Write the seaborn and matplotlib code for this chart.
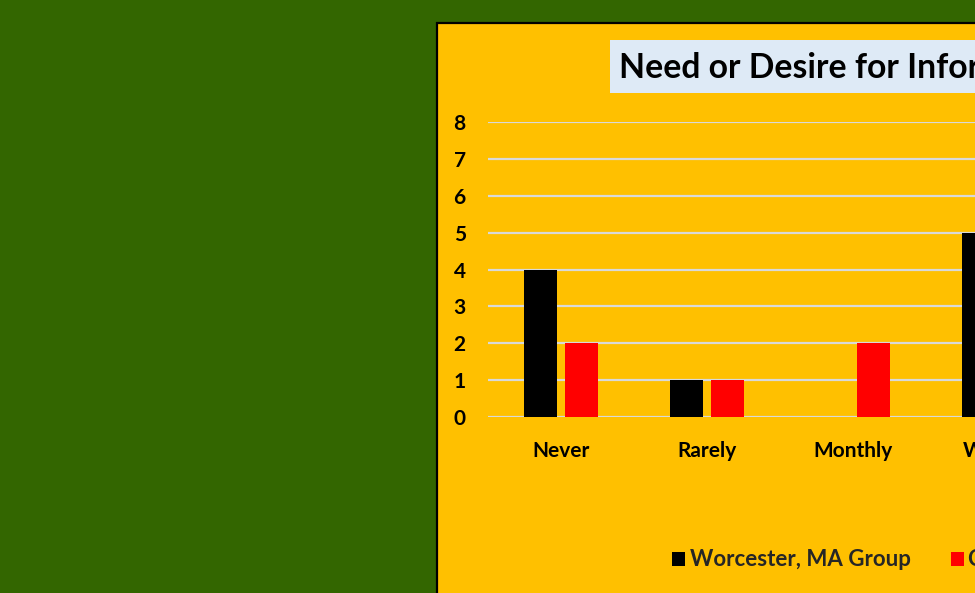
import matplotlib
matplotlib.use("Agg")
import matplotlib.pyplot as plt
from matplotlib.patches import Rectangle
import seaborn as sns
import pandas as pd

# ---- data ----
categories = ["Never", "Rarely", "Monthly", "Weekly"]
series_names = ["Worcester, MA Group", "Comparison Group"]
worcester = [4, 1, 0, 5]
comparison = [2, 1, 2, 3]
yticks = [0, 1, 2, 3, 4, 5, 6, 7, 8]
title = "Need or Desire for Information"

df = pd.DataFrame({
    "Response": categories * 2,
    "Count": worcester + comparison,
    "Group": [series_names[0]] * len(categories) + [series_names[1]] * len(categories),
})

sns.set_theme(style="white")
plt.rcParams["font.family"] = ["Lato", "DejaVu Sans"]

W, H = 975, 593
fig = plt.figure(figsize=(W / 100, H / 100), dpi=100)
fig.patch.set_facecolor("#336600")

# chart panel (yellow with black border), cropped by figure edge
panel = Rectangle((437 / W, -0.2), 0.7, (1 - 23 / H) + 0.2, transform=fig.transFigure,
                  facecolor="#FFC000", edgecolor="#000000", linewidth=1.6, zorder=-2)
fig.patches.append(panel)

# title box
tbox = Rectangle((610 / W, 1 - 93 / H), 0.6, 53 / H, transform=fig.transFigure,
                 facecolor="#DEEAF6", edgecolor="none", zorder=-1)
fig.patches.append(tbox)
fig.text(619 / W, 1 - 68 / H, title, fontsize=24.3, fontweight="bold", color="#000000",
         ha="left", va="center", zorder=2)

ax_left = 488 / W
ax_bottom = 1 - 417 / H
ax_w = 146 * len(categories) / W
ax_h = (417 - 122) / H
ax = fig.add_axes([ax_left, ax_bottom, ax_w, ax_h])
ax.set_facecolor("none")

sns.barplot(data=df, x="Response", y="Count", hue="Group", order=categories,
            hue_order=series_names, palette=["#000000", "#FF0000"], saturation=1,
            width=0.575, gap=0.214, linewidth=0, ax=ax)

ax.set_ylim(0, 8)
ax.set_xlim(-0.5, len(categories) - 0.5)
ax.set_yticks(yticks)
ax.set_yticklabels([str(t) for t in yticks])
ax.yaxis.grid(True, color="#D9D9D9", linewidth=1.6)
ax.set_axisbelow(True)
for s in ax.spines.values():
    s.set_visible(False)
ax.tick_params(axis="both", length=0, labelsize=15, colors="#000000")
ax.tick_params(axis="y", pad=16)
ax.tick_params(axis="x", pad=17)
for lbl in ax.get_xticklabels() + ax.get_yticklabels():
    lbl.set_fontweight("bold")
ax.set_xlabel("")
ax.set_ylabel("")

handles, labels = ax.get_legend_handles_labels()
ax.get_legend().remove()
fig.legend(handles, labels, loc="center left", bbox_to_anchor=(672 / W, 1 - 560 / H),
           bbox_transform=fig.transFigure, ncol=2, frameon=False, borderpad=0,
           borderaxespad=0, handlelength=0.6, handleheight=0.6, handletextpad=0.2,
           columnspacing=1.8, prop={"weight": "bold", "size": 16})

fig.savefig("out.png", dpi=100, facecolor=fig.get_facecolor())
